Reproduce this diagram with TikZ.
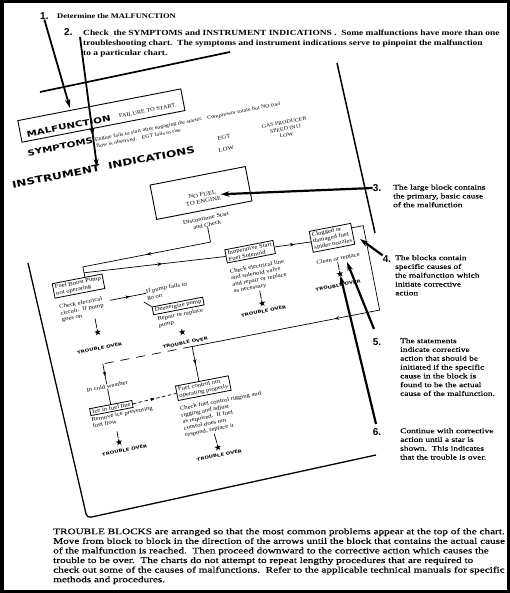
\documentclass[tikz,border=0pt]{standalone}
\usepackage{fontspec}
\setmainfont{Liberation Serif}
\newfontfamily\twA[FakeStretch=1.2]{Liberation Serif}
\newfontfamily\twB[FakeStretch=1.32,FakeBold=0.35]{Liberation Serif}
\newfontfamily\hv[FakeStretch=1.3]{DejaVu Sans}
\newfontfamily\numfont{Liberation Sans}
\usetikzlibrary{arrows.meta,decorations.markings,shapes.geometric,calc}
\begin{document}
\begin{tikzpicture}[x=1pt,y=-1pt,
  chart/.style={font=\fontsize{5.6}{6.6}\selectfont\twA, inner sep=0pt, align=left},
  box/.style={draw, line width=0.8pt, font=\fontsize{5.6}{6.6}\selectfont\twA, align=left, inner xsep=2pt, inner ysep=1.5pt},
  heavy/.style={font=\fontsize{8}{9}\selectfont\hv\bfseries, inner sep=0pt},
  tover/.style={font=\fontsize{4.1}{5}\selectfont\hv\bfseries, inner sep=0pt},
  starmk/.style={star, star points=5, star point ratio=2.5, fill=black, inner sep=0pt, minimum size=7pt},
  conn/.style={line width=0.7pt},
  marr/.style={postaction={decorate, decoration={markings, mark=at position #1 with {\arrow{Stealth[length=4.5pt,width=3.6pt]}}}}},
  bigmarr/.style={postaction={decorate, decoration={markings, mark=at position #1 with {\arrow{Stealth[length=8pt,width=5pt]}}}}},
  callout/.style={line width=2.2pt, -{Stealth[length=9pt,width=5.5pt]}},
  num/.style={font=\fontsize{10}{12}\selectfont\numfont\bfseries, inner sep=0pt},
  note/.style={font=\fontsize{7.1}{8.8}\selectfont\twB, inner sep=0pt, align=left, anchor=north west},
  toptext/.style={font=\fontsize{7.85}{10}\selectfont\twA\bfseries, inner sep=0pt, align=left},
  pageedge/.style={line width=1.3pt},
]
\useasboundingbox (0,0) rectangle (510,593);
\fill[white] (0,0) rectangle (510,593);

% ---------- tilted page outline ----------
\draw[pageedge, line width=1.7pt] (40,92) -- (230,52);
\draw[pageedge, line width=1.5pt] (337,63) -- (375,233);
\draw[pageedge, rounded corners=4pt] (28,263) -- (87,518) -- (376,455);

% ---------- tilted chart ----------
\begin{scope}[shift={(201,193)}, rotate=11, transform shape]
  \node[draw, line width=0.9pt, minimum width=166pt, minimum height=22pt, inner sep=0pt] (malbox) at (-83,-95) {};
  \node[heavy, anchor=west] (malf) at (-160,-91) {MALFUNCTION};
  \node[font=\fontsize{5.3}{6}\selectfont\twA, inner sep=0pt, anchor=west] (fts) at (-66,-91) {FAILURE TO START.};
  \node[heavy, anchor=west] (symp) at (-163,-72) {SYMPTOMS};
  \node[chart, font=\fontsize{5}{6.5}\selectfont\twA, anchor=west] (symt1) at (-94,-72.2)
    {Engine fails to start after engaging the starter.\quad Compressor rotate but NO fuel};
  \node[chart, font=\fontsize{5}{6.5}\selectfont\twA, anchor=west] (symt2) at (-94,-65.8)
    {flow is observed.\quad EGT fails to rise};
  \node[heavy, font=\fontsize{9.3}{10}\selectfont\hv\bfseries, anchor=west] (instr) at (-184,-44) {INSTRUMENT\ \ INDICATIONS};
  \node[chart] (egt) at (33,-50) {EGT};
  \node[chart] (egtl) at (33,-38) {LOW};
  \node[chart, align=center, font=\fontsize{5}{6.3}\selectfont\twA] (gp) at (95,-47) {GAS PRODUCER\\SPEED (N1)\\LOW};

  \node[draw, line width=0.9pt, minimum width=97pt, minimum height=35pt] (nofuel) at (0,0) {};
  \node[chart, align=center] (nftxt) at (1,5) {NO FUEL\\TO ENGINE};
  \node[chart, align=center] (disc) at (0,29) {Discontinue Start\\and Check};

  \node[box] (fbp) at (-138,68) {Fuel Boost Pump\\not operating};
  \node[box] (inop) at (37,67) {Inoperative Start\\Fuel Solenoid};
  \node[box] (clog) at (120,69) {Clogged or\\damaged fuel\\spider nozzles};
  \node[box] (deen) at (-44,106.5) {Deenergize pump};
  \node[box] (fuel) at (-35,192) {Fuel control not\\operating properly};
  \node[box] (ice) at (-129,194) {Ice in fuel line};

  \coordinate (c1) at (0,50);
  \coordinate (c2) at (-130,50);
  \coordinate (c3) at (-130,56);
  \draw[conn] (disc.south) -- (c1);
  \draw[conn, marr=0.5] (c1) -- (c2);
  \draw[conn] (c2) -- (c2 |- fbp.north);
  \draw[conn, marr=0.55] (c3) -- (inop.west);
  \draw[conn, marr=0.55] (inop.east) -- (clog.west);

  \coordinate (r1) at (153,63);
  \coordinate (r2) at (153,149);
  \coordinate (jn) at (-38,149);
  \coordinate (d1) at (-129,149);
  \draw[conn] (clog.east |- r1) -- (r1) -- (r2);
  \draw[conn, marr=0.24] (r2) -- (jn);
  \draw[conn, marr=0.5] (jn) -- (jn |- fuel.north);
  \draw[conn, dash pattern=on 9pt off 7pt] (jn) -- (d1);
  \node[chart] (cold) at (-129,172) {In cold weather};
  \draw[conn, marr=0.6] (d1) -- (cold.north);
  \draw[conn] (cold.south) -- (cold.south |- ice.north);
  \draw[conn, dash pattern=on 3.5pt off 2.5pt, marr=0.5] (ice.east) -- (fuel.west);

  \node[chart, anchor=north west] (chk) at (-161,82.5) {Check electrical\\circuit.\ \ If pump\\goes on};
  \coordinate (a1) at (-110,88);
  \node[chart, anchor=west] (ifp) at (-73,90) {If pump fails to\\go on};
  \draw[conn, marr=0.55] (a1) -- (a1 -| ifp.west);
  \coordinate (g1) at (-77,96);
  \draw[conn] (g1) -- (deen.north west);
  \node[chart, anchor=north west] (rep) at (-67,113) {Repair or replace\\pump};
  \node[starmk] (st2) at (-45,133) {};
  \node[tover] (to2) at (-44,144) {TROUBLE OVER};
  \coordinate (l1) at (-128,103);
  \node[starmk] (st1) at (-128,117) {};
  \draw[conn] (l1) -- (st1.north);
  \node[tover] (to1) at (-129,133) {TROUBLE OVER};

  \node[chart, anchor=north west] (ckl) at (13,80.5) {Check electrical line\\and solenoid valve\\and repair or replace\\as necessary};
  \coordinate (l3) at (39,107);
  \node[starmk] (st3) at (39,120) {};
  \draw[conn] (l3) -- (st3.north);
  \node[tover] (to3) at (39,128) {TROUBLE OVER};

  \node[chart] (clean) at (122,91) {Clean or replace};
  \node[starmk] (st4) at (121,106) {};
  \draw[conn] (clean.south -| st4) -- (st4.north);
  \node[tover] (to4) at (117,117) {TROUBLE OVER};

  \node[chart, anchor=north west] (rem) at (-151,199.5) {Remove ice preventing\\fuel flow};
  \coordinate (l5) at (-128,218);
  \node[starmk] (st5) at (-128,229) {};
  \draw[conn] (l5) -- (st5.north);
  \node[tover] (to5) at (-124,238) {TROUBLE OVER};

  \node[chart, anchor=north west] (cfc) at (-62,205.5) {Check fuel control rigging and\\rigging and adjust\\as required.\ \ If fuel\\control does not\\respond, replace it};
  \coordinate (l6) at (-33,239);
  \node[starmk] (st6) at (-32,253) {};
  \draw[conn] (l6) -- (st6.north);
  \node[tover] (to6) at (-32,261) {TROUBLE OVER};
\end{scope}

\node[num, anchor=west] (n1) at (40,16) {1.};
\node[toptext, anchor=west] (t1txt) at (57,16) {\scalebox{0.9}{Determine the MALFUNCTION}};
\node[num, anchor=west] (n2) at (64,32.5) {2.};
\node[toptext, anchor=north west] (t2txt) at (83,29.5) {Check\ \ the SYMPTOMS and INSTRUMENT INDICATIONS .\ \ Some malfunctions have more than one\\troubleshooting chart.\ \ The symptoms and instrument indications serve to pinpoint the malfunction\\to a particular chart.};

\node[num] (n3) at (377,188) {3.};
\node[note] (t3) at (393,184.5) {The large block contains\\the primary, basic cause\\of the malfunction};
\node[num] (n4) at (387,259) {4.};
\node[note] (t4) at (395,255) {The blocks contain\\specific causes of\\the malfunction which\\initiate corrective\\action};
\node[num] (n5) at (377,342) {5.};
\node[note] (t5) at (400,338) {The statements\\indicate corrective\\action that should be\\initiated if the specific\\cause in the block is\\found to be the actual\\cause of the malfunction.};
\node[num] (n6) at (377,432) {6.};
\node[note] (t6) at (400,428) {Continue with corrective\\action until a star is\\shown.\ \ This indicates\\that the trouble is over.};

\coordinate (e1) at (70,108);
\draw[callout, line width=1.8pt] (n1.south) -- (e1);
\coordinate (s2) at (80,37);
\coordinate (e2) at (97,167);
\draw[line width=1.8pt, -{Stealth[length=8pt,width=5pt]}, bigmarr=0.76] (s2) -- (e2);
\draw[callout] (n3.west) -- (nftxt.east);
\coordinate (e4) at (360,239);
\draw[callout] (n4.north west) -- (e4);
\coordinate (s5) at (374,329);
\coordinate (e5) at (347,262);
\draw[callout] (s5) -- (e5);
\coordinate (s6) at (376,424);
\draw[callout] (s6) -- (st4);

\node[font=\fontsize{8.5}{9.6}\selectfont\twB, inner sep=0pt, anchor=north west, align=left] (bot) at (53,528)
 {TROUBLE BLOCKS are arranged so that the most common problems appear at the top of the chart.\\
  Move from block to block in the direction of the arrows until the block that contains the actual cause\\
  of the malfunction is reached.\ \ Then proceed downward to the corrective action which causes the\\
  trouble to be over.\ \ The charts do not attempt to repeat lengthy procedures that are required to\\
  check out some of the causes of malfunctions.\ \ Refer to the applicable technical manuals for specific\\
  methods and procedures.};

\draw[line width=3.5pt] (1.75,1.75) rectangle (508.25,591.25);
\end{tikzpicture}
\end{document}
